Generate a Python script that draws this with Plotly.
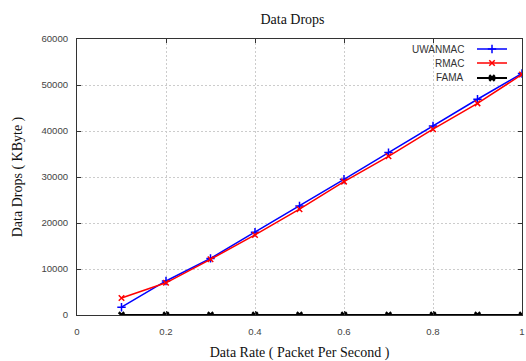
import plotly.graph_objects as go

data_rate = [0.1, 0.2, 0.3, 0.4, 0.5, 0.6, 0.7, 0.8, 0.9, 1.0]
uwanmac = [1700, 7400, 12300, 18000, 23700, 29500, 35300, 41100, 46900, 52500]
rmac = [3700, 7000, 12100, 17400, 23000, 29000, 34500, 40400, 46000, 52300]
fama = [0, 0, 0, 0, 0, 0, 0, 0, 0, 0]

series_names = ["UWANMAC", "RMAC", "FAMA"]

x_ticks = [0, 0.2, 0.4, 0.6, 0.8, 1]
x_tick_text = ["0", "0.2", "0.4", "0.6", "0.8", "1"]
y_ticks = [0, 10000, 20000, 30000, 40000, 50000, 60000]
y_tick_text = ["0", "10000", "20000", "30000", "40000", "50000", "60000"]

W, H = 526, 361
L, R, T, B = 77, 4, 39, 46
PW, PH = W - L - R, H - T - B

def px_x(p):
    return (p - L) / PW

def px_y(p):
    return (H - B - p) / PH

legend_rows = [49, 63, 78]
legend_ids = ["legend", "legend2", "legend3"]

fig = go.Figure()
fig.add_trace(go.Scatter(x=data_rate, y=uwanmac, name=" ", mode="lines+markers", legend="legend",
                         line=dict(color="#0000ff", width=1.5),
                         marker=dict(symbol="cross-thin", size=6, line=dict(color="#0000ff", width=1.5))))
fig.add_trace(go.Scatter(x=data_rate, y=rmac, name=" ", mode="lines+markers", legend="legend2",
                         line=dict(color="#ff0000", width=1.5),
                         marker=dict(symbol="x-thin", size=5.5, line=dict(color="#ff0000", width=1.5))))
fig.add_trace(go.Scatter(x=data_rate, y=fama, name=" ", mode="lines+markers", legend="legend3",
                         line=dict(color="#000000", width=2),
                         marker=dict(symbol="x-thin", size=5.5, line=dict(color="#000000", width=2.5))))

axis_common = dict(showline=True, linecolor="#333333", linewidth=1, mirror="ticks",
                   ticks="inside", ticklen=4, tickcolor="#333333",
                   showgrid=True, gridcolor="#cccccc", griddash="2px,2px", gridwidth=1,
                   zeroline=False, automargin=False,
                   tickfont=dict(family="Liberation Sans, Arial", size=9.6, color="#444444"),
                   title_font=dict(family="Liberation Serif, Times New Roman", size=14, color="#111111"))

legend_font = dict(family="Liberation Sans, Arial", size=10, color="#333333")
annotations = []
for name, yp in zip(series_names, legend_rows):
    annotations.append(dict(text=name, xref="paper", yref="paper", x=px_x(466), y=px_y(yp),
                            xanchor="right", yanchor="middle", showarrow=False, font=legend_font))

legends = {}
for lid, yp in zip(legend_ids, legend_rows):
    legends[lid] = dict(x=px_x(472), y=px_y(yp), xanchor="left", yanchor="middle",
                        bgcolor="rgba(0,0,0,0)", font=dict(family="Liberation Sans, Arial", size=8),
                        itemwidth=30)

fig.update_layout(
    width=W, height=H,
    margin=dict(l=L, r=R, t=T, b=B),
    paper_bgcolor="white", plot_bgcolor="white",
    title=dict(text="Data Drops", xref="container", x=292.5 / W, xanchor="center",
               yref="container", y=1 - 19.5 / H, yanchor="middle",
               font=dict(family="Liberation Serif, Times New Roman", size=14, color="#111111")),
    xaxis=dict(range=[0, 1], tickvals=x_ticks, ticktext=x_tick_text, ticklabelstandoff=7,
               title=dict(text="Data Rate ( Packet Per Second )", standoff=12), **axis_common),
    yaxis=dict(range=[0, 60000], tickvals=y_ticks, ticktext=y_tick_text, ticklabelstandoff=6,
               title=dict(text="Data Drops ( KByte )", standoff=15), **axis_common),
    showlegend=True,
    annotations=annotations,
    shapes=[dict(type="rect", xref="paper", yref="paper", x0=px_x(410), x1=1, y0=px_y(88), y1=1,
                 fillcolor="white", line=dict(width=0), layer="between")],
    **legends,
)

fig.write_html("out.html", post_script="document.body.style.margin='0';",
               config={"displayModeBar": False})
